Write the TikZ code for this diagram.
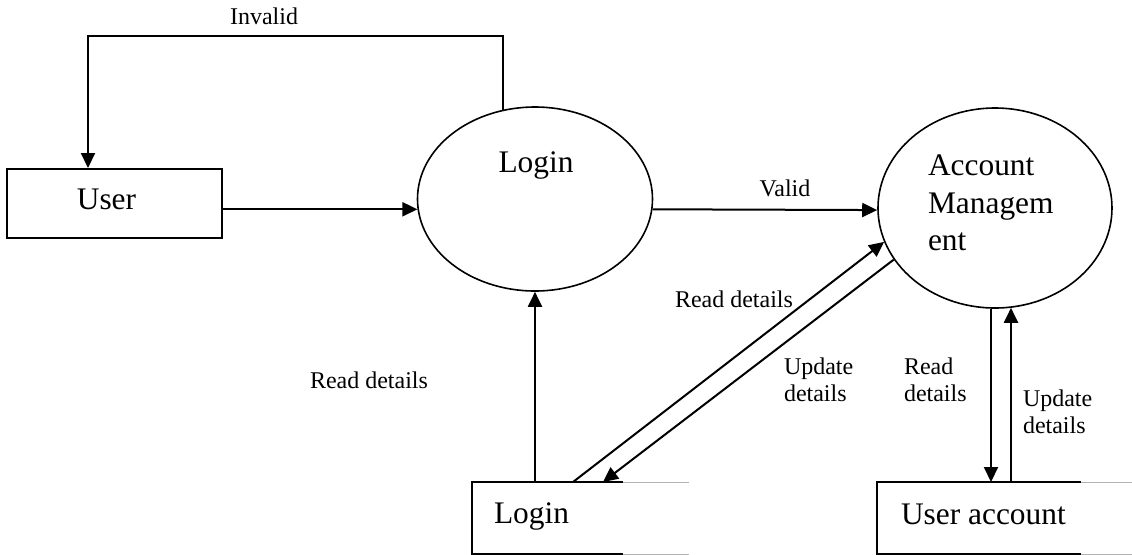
\documentclass[tikz,border=0pt]{standalone}
\usepackage{fontspec}
\setmainfont{Liberation Serif}
\usetikzlibrary{calc}
\usetikzlibrary{arrows.meta}
\usetikzlibrary{shapes.geometric}

\begin{document}
\begin{tikzpicture}[x=0.5pt, y=-0.5pt, line width=1pt,
  >={Triangle[length=7.5pt,width=7pt]},
  process/.style={ellipse, draw, line width=0.8pt, inner sep=0pt},
  big/.style={font=\fontsize{15.7}{18.75}\selectfont, inner sep=0pt},
  small/.style={font=\fontsize{12}{13.5}\selectfont, inner sep=0pt}]

\useasboundingbox (0,0) rectangle (1132,554);

\node[process, minimum width=117.5pt, minimum height=92pt] (L) at (535,199) {};
\node[process, minimum width=117pt, minimum height=100pt] (A) at (995,208) {};
\node[draw, minimum width=107.5pt, minimum height=34.5pt, inner sep=0pt] (U) at (114.5,203.5) {};
\node[anchor=north west, minimum width=107.5pt, minimum height=35pt, inner sep=0pt] (S1) at (472,482) {};
\node[anchor=north west, minimum width=127.5pt, minimum height=35pt, inner sep=0pt] (S2) at (877,482) {};

\node[big, anchor=base] (Ltxt) at (536,172) {Login};
\node[big, anchor=north west, align=left] (Atxt) at (927,154) {Account\\Managem\\ent};
\node[big, anchor=base] (Utxt) at (106.5,209) {User};
\node[big, anchor=base west] (S1txt) at (493,523) {Login};
\node[big, anchor=base west] (S2txt) at (900,524) {User account};

% stores open on the right
\draw ($(S1.north west)+(151,0)$) -- (S1.north west) -- (S1.south west) -- ($(S1.south west)+(151,0)$);
\draw[black!30, line width=0.5pt] ($(S1.north west)+(151,0)$) -- (S1.north east);
\draw[black!30, line width=0.5pt] ($(S1.south west)+(151,0)$) -- (S1.south east);
\draw ($(S2.north west)+(204,0)$) -- (S2.north west) -- (S2.south west) -- ($(S2.south west)+(204,0)$);
\draw[black!30, line width=0.5pt] ($(S2.north west)+(204,0)$) -- (S2.north east);
\draw[black!30, line width=0.5pt] ($(S2.south west)+(204,0)$) -- (S2.south east);

\coordinate (bend) at (88,36);
\draw[->] (L.110) |- (bend) -- (bend |- U.north);
\node[small, anchor=base] (inv) at (264,24) {Invalid};

\draw[->] (U.east |- L.185.4) -- (L.185.4);

\draw[->] (L.-5.8) -- (A.181.5);
\node[small, anchor=base] (val) at (785,196) {Valid};

\draw[->] (S1.north -| L.south) -- (L.south);
\node[small, anchor=base] (rd1) at (369,388) {Read details};

\draw[->] ($(S1.north west)+(101,0)$) -- (A.197.5);
\draw[->] (A.207) -- ($(S1.north west)+(131,0)$);
\node[small, anchor=base] (rd2) at (734,307) {Read details};
\node[small, anchor=north west, align=left] (ud2) at (783,356.6) {Update\\details};

\draw[->] ($(A.south)+(-4,0)$) -- ($(S2.north -| A.south)+(-4,0)$);
\draw[->] ($(S2.north -| A.south)+(16,0)$) -- ($(A.south)+(16,-1)$);
\node[small, anchor=north west, align=left] (rd3) at (903,356.6) {Read\\details};
\node[small, anchor=north west, align=left] (ud3) at (1022,389) {Update\\details};

\end{tikzpicture}
\end{document}
